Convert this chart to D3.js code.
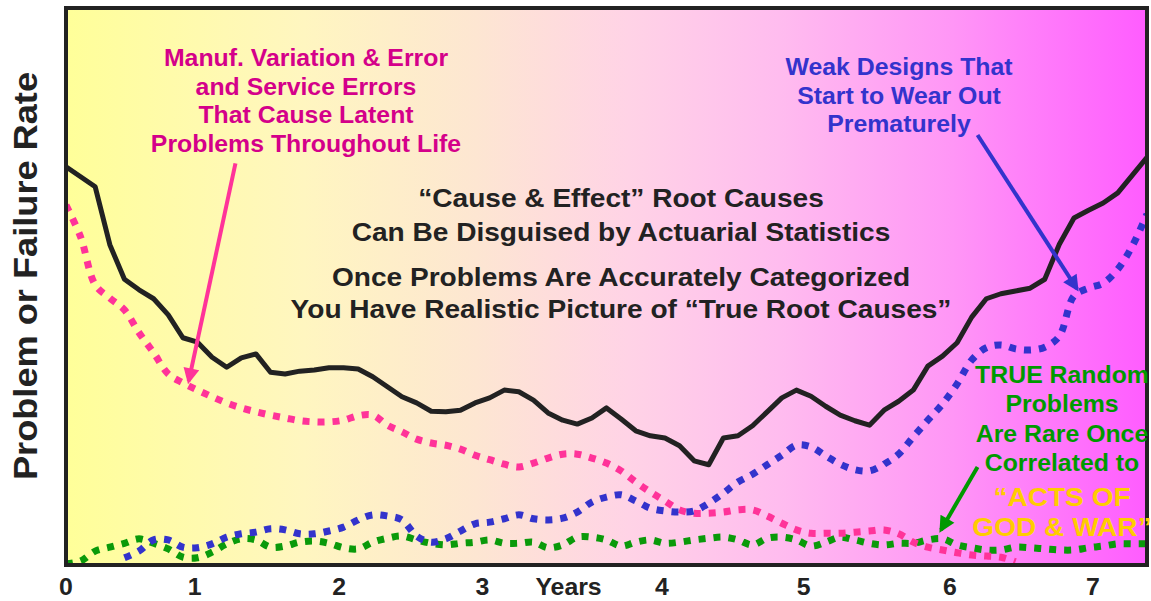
<!DOCTYPE html>
<html>
<head>
<meta charset="utf-8">
<script src="https://cdn.jsdelivr.net/npm/d3@7"></script>
<style>
  body { margin: 0; background: #fff; }
  text { font-family: "Liberation Sans", Arial, sans-serif; font-weight: bold; }
</style>
</head>
<body>
<script>
// sample positions, in years (every 0.1 year)
var years = d3.range(0, 75).map(function (i) { return i / 10; });

// total observed problems (black)
var totalRate = [71.5, 69.7, 67.9, 57.5, 51.3, 49.4, 47.8, 44.9, 40.8, 40.0,
  37.3, 35.5, 37.2, 37.9, 34.6, 34.3, 34.8, 35.0, 35.4, 35.4,
  35.2, 33.8, 32.0, 30.2, 29.1, 27.6, 27.5, 27.8, 29.1, 30.0,
  31.4, 31.1, 29.6, 27.3, 26.0, 25.3, 26.4, 28.2, 26.2, 24.1,
  23.2, 22.8, 21.4, 18.7, 18.0, 22.8, 23.2, 25.0, 27.5, 30.0,
  31.4, 30.3, 28.5, 26.9, 25.9, 25.1, 27.8, 29.4, 31.4, 35.7,
  37.5, 39.9, 44.5, 47.8, 48.7, 49.2, 49.7, 51.3, 57.6, 62.3,
  63.7, 65.0, 66.8, 70.0, 73.2];

// manufacturing / service errors (pink)
var manufRate = [64.6, 58.9, 50.3, 47.9, 45.8, 41.7, 38.1, 34.3, 32.7, 31.4,
  30.2, 29.1, 28.2, 27.5, 26.9, 26.4, 25.9, 25.7, 25.7, 26.0,
  26.8, 26.9, 25.1, 23.9, 22.6, 21.9, 21.5, 20.8, 19.7, 18.9,
  18.1, 17.6, 18.3, 19.2, 19.9, 19.9, 19.2, 18.3, 16.9, 14.9,
  13.1, 11.5, 9.9, 9.3, 9.3, 9.5, 9.9, 9.9, 8.8, 7.5,
  6.3, 5.7, 5.7, 5.7, 5.9, 6.1, 6.3, 5.6, 4.1, 3.2,
  2.7, 2.2, 1.8, 1.6, 1.4, 0.6, null, null, null, null,
  null, null, null, null, null];

// weak designs wearing out (blue)
var wearRate = [null, null, null, null, 1.3, 2.5, 4.5, 4.5, 3.2, 3.1,
  3.8, 5.0, 5.6, 5.9, 6.5, 6.3, 5.6, 5.6, 6.1, 6.8,
  8.1, 9.0, 8.8, 8.1, 5.2, 4.1, 4.7, 6.1, 7.4, 7.7,
  8.3, 9.0, 8.3, 8.1, 8.4, 9.5, 11.3, 12.2, 12.6, 11.5,
  10.2, 9.7, 9.5, 9.7, 11.1, 12.9, 14.9, 16.3, 18.0, 19.7,
  21.5, 21.2, 19.6, 18.1, 17.1, 16.9, 18.1, 19.9, 23.0, 26.0,
  28.9, 32.5, 36.8, 39.0, 39.5, 38.8, 38.6, 39.1, 41.1, 48.3,
  49.7, 50.6, 53.1, 57.3, 63.0];

// true random problems (green)
var randomRate = [0.2, 0.7, 2.5, 3.2, 3.9, 4.7, 3.9, 2.9, 1.4, 1.3,
  2.3, 3.8, 4.7, 4.5, 3.2, 3.4, 4.1, 4.3, 3.9, 3.1,
  2.9, 4.1, 4.8, 5.2, 4.5, 3.9, 3.6, 3.9, 4.1, 4.5,
  3.9, 3.9, 4.1, 3.1, 3.6, 5.0, 5.0, 4.5, 3.4, 4.1,
  4.5, 3.9, 4.1, 4.5, 4.8, 5.0, 4.5, 3.6, 4.8, 5.0,
  4.5, 3.4, 4.1, 5.0, 4.5, 3.9, 3.6, 3.9, 3.9, 4.5,
  4.7, 3.6, 3.1, 2.7, 2.7, 3.2, 3.1, 2.9, 2.7, 2.7,
  3.1, 3.4, 3.8, 3.8, 3.8];

// axis labels (as placed in the drawing, in years)
var tickLabels = ['0', '1', '2', '3', '4', '5', '6', '7'];
var tickAt = [0, 0.88, 1.87, 2.85, 4.08, 5.05, 6.05, 7.03];

var manufNote = ['Manuf. Variation & Error', 'and Service Errors', 'That Cause Latent', 'Problems Throughout Life'];
var centerNote = ['\u201CCause & Effect\u201D Root Causes', 'Can Be Disguised by Actuarial Statistics',
  'Once Problems Are Accurately Categorized', 'You Have Realistic Picture of \u201CTrue Root Causes\u201D'];
var wearNote = ['Weak Designs That', 'Start to Wear Out', 'Prematurely'];
var randomNote = ['TRUE Random', 'Problems', 'Are Rare Once', 'Correlated to'];
var actsNote = ['\u201CACTS OF', 'GOD & WAR\u201D'];

var width = 1151, height = 601;
var stretch = 1.08; // lettering in the drawing is a bit wider than Arial
var svg = d3.select('body').append('svg').attr('width', width).attr('height', height);

var x = d3.scaleLinear().domain([0, 7.4]).range([66, 1147]);
var y = d3.scaleLinear().domain([0, 100]).range([565, 8]);

var defs = svg.append('defs');
var grad = defs.append('linearGradient').attr('id', 'bg').attr('x1', 0).attr('x2', 1).attr('y1', 0).attr('y2', 0);
[[0, '#ffff99'], [0.22, '#fff6c0'], [0.38, '#fde6d2'], [0.52, '#ffd3e6'],
 [0.66, '#ffbcef'], [0.82, '#ff96f6'], [1, '#ff5cff']].forEach(function (s) {
  grad.append('stop').attr('offset', s[0]).attr('stop-color', s[1]);
});
defs.append('clipPath').attr('id', 'clip').append('rect')
  .attr('x', x(0)).attr('y', y(100)).attr('width', x(7.4) - x(0)).attr('height', y(0) - y(100));

function marker(id, color) {
  defs.append('marker').attr('id', id).attr('viewBox', '0 0 10 10')
    .attr('refX', 8).attr('refY', 5).attr('markerWidth', 4.5).attr('markerHeight', 4)
    .attr('orient', 'auto').attr('markerUnits', 'strokeWidth')
    .append('path').attr('d', 'M0,0L10,5L0,10Z').attr('fill', color);
}
marker('arPink', '#ff3399');
marker('arBlue', '#3333cc');
marker('arGreen', '#009900');

svg.append('rect').attr('x', x(0)).attr('y', y(100))
  .attr('width', x(7.4) - x(0)).attr('height', y(0) - y(100)).attr('fill', 'url(#bg)');

var plot = svg.append('g').attr('clip-path', 'url(#clip)');

function addLine(values, color, w, dash, curve) {
  var line = d3.line()
    .defined(function (d) { return d != null; })
    .x(function (d, i) { return x(years[i]); })
    .y(function (d) { return y(d); })
    .curve(curve);
  plot.append('path').datum(values)
    .attr('fill', 'none').attr('stroke', color).attr('stroke-width', w)
    .attr('stroke-dasharray', dash).attr('stroke-linejoin', 'round')
    .attr('d', line);
}
addLine(randomRate, '#0a9a0a', 7, '7,8', d3.curveCatmullRom);
addLine(manufRate, '#ff3399', 7, '7,8', d3.curveCatmullRom);
addLine(wearRate, '#3333cc', 7, '7,8', d3.curveCatmullRom);
addLine(totalRate, '#222', 5, null, d3.curveLinear);

// frame
svg.append('rect').attr('x', x(0)).attr('y', y(100))
  .attr('width', x(7.4) - x(0)).attr('height', y(0) - y(100))
  .attr('fill', 'none').attr('stroke', '#222').attr('stroke-width', 4);

function label(parent, txt, cx, by, size, color) {
  return parent.append('text')
    .attr('transform', 'translate(' + cx + ',' + by + ') scale(' + stretch + ',1)')
    .attr('text-anchor', 'middle').attr('font-size', size).attr('fill', color)
    .text(txt);
}

// x labels
tickLabels.forEach(function (d, i) { label(svg, d, x(tickAt[i]), 595, 23, '#222'); });
label(svg, 'Years', x(3.44), 595, 23, '#222');

svg.append('text')
  .attr('transform', 'translate(37,276) rotate(-90) scale(' + stretch + ',1)')
  .attr('text-anchor', 'middle').attr('font-size', 33.5).attr('fill', '#222')
  .text('Problem or Failure Rate');

function note(lines, cx, y0, step, color, size) {
  var g = svg.append('g');
  lines.forEach(function (d, i) { label(g, d, cx, y0 + i * step, size, color); });
}
note(manufNote, 306, 66, 28.7, '#d4008a', 23);
note(centerNote.slice(0, 2), 621, 207, 34, '#222', 26);
note(centerNote.slice(2), 621, 286, 32, '#222', 26);
note(wearNote, 899, 75, 28.5, '#3333cc', 23);
note(randomNote, 1062, 383, 29.3, '#009900', 23);
note(actsNote, 1062, 506, 30, '#ffcc00', 26);

function arrow(x1, y1, x2, y2, color, id) {
  svg.append('line').attr('x1', x(x1)).attr('y1', y(y1)).attr('x2', x(x2)).attr('y2', y(y2))
    .attr('stroke', color).attr('stroke-width', 4).attr('marker-end', 'url(#' + id + ')');
}
arrow(1.16, 72.1, 0.84, 33.0, '#ff3399', 'arPink');
arrow(6.24, 77.2, 6.92, 49.6, '#3333cc', 'arBlue');
arrow(6.24, 17.6, 5.99, 6.3, '#009900', 'arGreen');
</script>
</body>
</html>
